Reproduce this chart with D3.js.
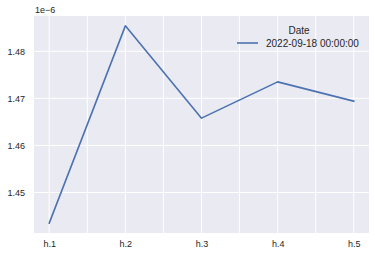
<!DOCTYPE html>
<html>
<head>
<meta charset="utf-8">
<script src="https://cdn.jsdelivr.net/npm/d3@7"></script>
<style>
  body { margin: 0; background: #fff; }
  svg { display: block; font-family: "Liberation Sans", Arial, sans-serif; }
</style>
</head>
<body>
<svg id="chart"></svg>
<script>
const categories = ["h.1", "h.2", "h.3", "h.4", "h.5"];
const values = [1.4435e-6, 1.4854e-6, 1.4658e-6, 1.4735e-6, 1.4694e-6];
const seriesName = "2022-09-18 00:00:00";
const legendTitle = "Date";
const yTicks = [1.45e-6, 1.46e-6, 1.47e-6, 1.48e-6];
const yTickLabels = ["1.45", "1.46", "1.47", "1.48"];
const offsetLabel = "1e\u22126";

const wSvg = 375;
const hSvg = 257;
const margin = { top: 16, right: 6, bottom: 24, left: 34 };
const textColor = "#262626";
const lineColor = "#4C72B0";

const svg = d3.select("#chart")
  .attr("width", wSvg)
  .attr("height", hSvg);

// index scale, 0.2 step of padding on each side like matplotlib margins
const x = d3.scaleLinear()
  .domain([-0.2, categories.length - 1 + 0.2])
  .range([margin.left, wSvg - margin.right]);

const ext = d3.extent(values);
const pad = (ext[1] - ext[0]) * 0.05;
const y = d3.scaleLinear()
  .domain([ext[0] - pad, ext[1] + pad])
  .range([hSvg - margin.bottom, margin.top]);

svg.append("rect")
  .attr("x", margin.left)
  .attr("y", margin.top)
  .attr("width", wSvg - margin.right - margin.left)
  .attr("height", hSvg - margin.bottom - margin.top)
  .attr("fill", "#EAEAF2");

// gridlines: x every half step, y at ticks
const xGrid = d3.range(0, categories.length - 0.5 + 0.01, 0.5);
svg.append("g")
  .selectAll("line")
  .data(xGrid)
  .enter()
  .append("line")
  .attr("x1", d => x(d))
  .attr("x2", d => x(d))
  .attr("y1", margin.top)
  .attr("y2", hSvg - margin.bottom)
  .attr("stroke", "#fff")
  .attr("stroke-width", 1);

svg.append("g")
  .selectAll("line")
  .data(yTicks)
  .enter()
  .append("line")
  .attr("x1", margin.left)
  .attr("x2", wSvg - margin.right)
  .attr("y1", d => y(d))
  .attr("y2", d => y(d))
  .attr("stroke", "#fff")
  .attr("stroke-width", 1);

// axes without lines, just labels
const xAxis = d3.axisBottom(x)
  .tickValues(d3.range(categories.length))
  .tickFormat(i => categories[i])
  .tickSize(0)
  .tickPadding(8);

const gx = svg.append("g")
  .attr("transform", `translate(0, ${hSvg - margin.bottom})`)
  .call(xAxis);

const yAxis = d3.axisLeft(y)
  .tickValues(yTicks)
  .tickFormat((d, i) => yTickLabels[i])
  .tickSize(0)
  .tickPadding(9);

const gy = svg.append("g")
  .attr("transform", `translate(${margin.left}, 0)`)
  .call(yAxis);

[gx, gy].forEach(g => {
  g.select(".domain").remove();
  g.selectAll("text")
    .attr("fill", textColor)
    .style("font-size", "9px")
    .style("font-family", "Liberation Sans, Arial, sans-serif");
});

svg.append("text")
  .attr("x", margin.left + 1)
  .attr("y", 13)
  .attr("fill", textColor)
  .style("font-size", "9px")
  .text(offsetLabel);

const line = d3.line()
  .x((d, i) => x(i))
  .y(d => y(d));

svg.append("path")
  .datum(values)
  .attr("d", line)
  .attr("fill", "none")
  .attr("stroke", lineColor)
  .attr("stroke-width", 1.6)
  .attr("stroke-linejoin", "round")
  .attr("stroke-linecap", "square");

// legend
const legend = svg.append("g");

legend.append("text")
  .attr("x", 299)
  .attr("y", 33.5)
  .attr("text-anchor", "middle")
  .attr("fill", textColor)
  .style("font-size", "10px")
  .text(legendTitle);

legend.append("line")
  .attr("x1", 237)
  .attr("x2", 258)
  .attr("y1", 43)
  .attr("y2", 43)
  .attr("stroke", lineColor)
  .attr("stroke-width", 1.6);

legend.append("text")
  .attr("x", 266)
  .attr("y", 46.8)
  .attr("fill", textColor)
  .style("font-size", "10px")
  .text(seriesName);
</script>
</body>
</html>
